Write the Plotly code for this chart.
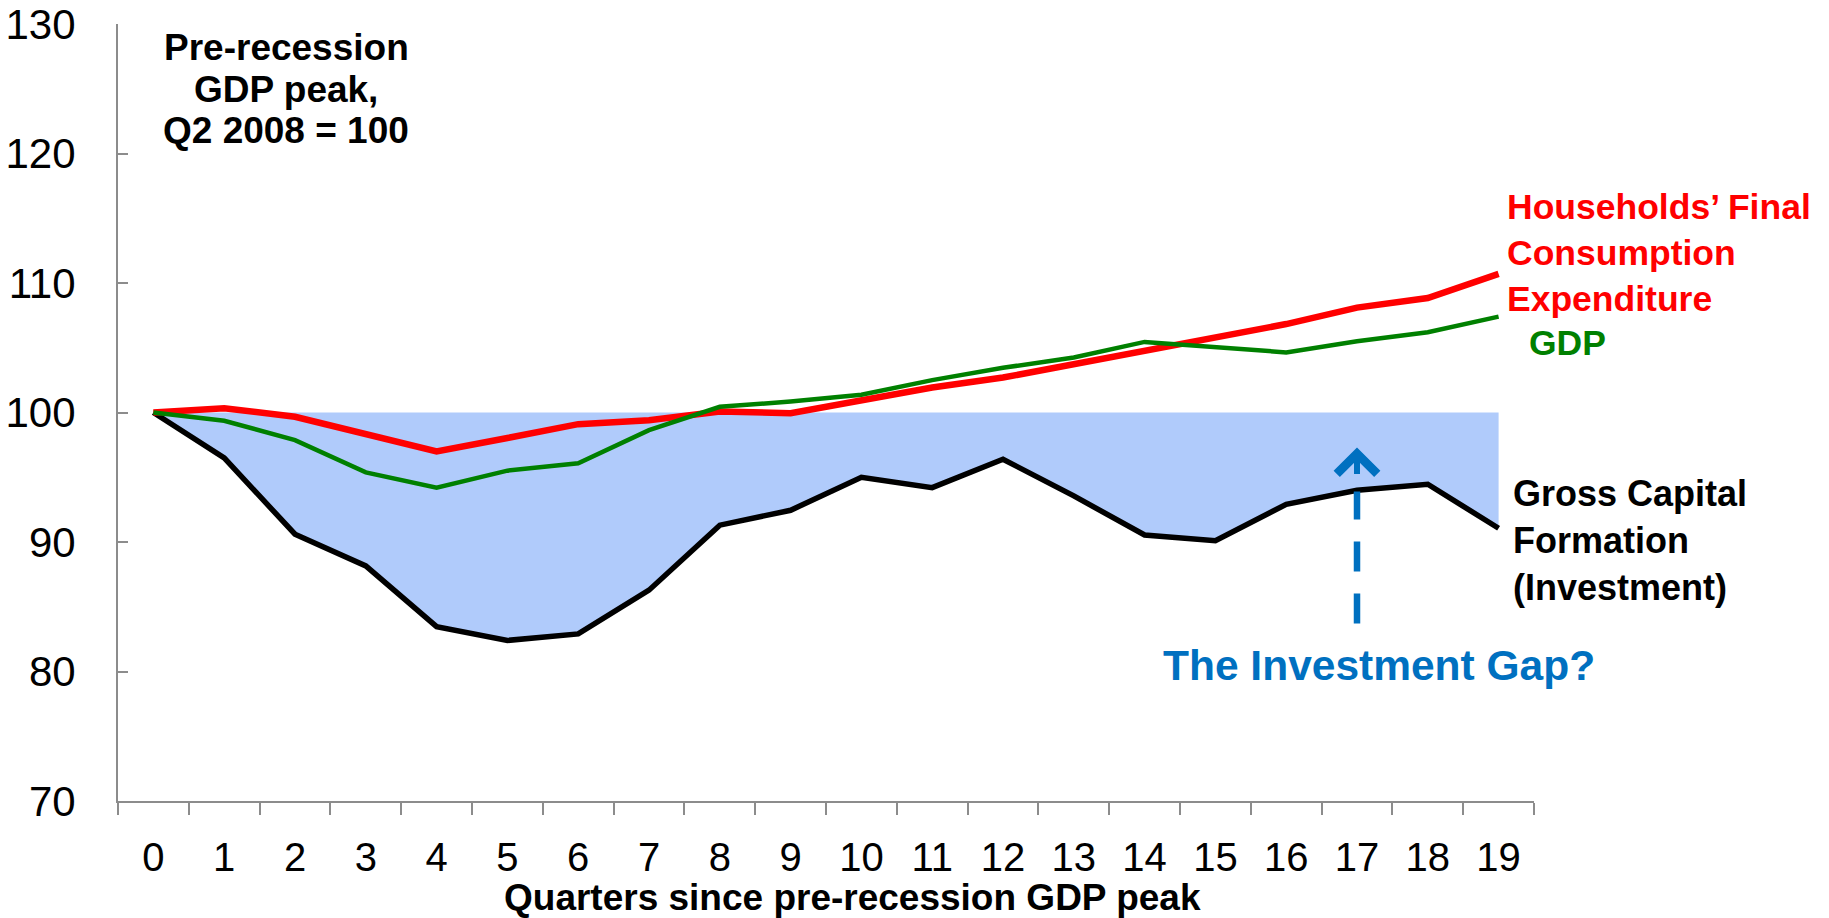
import plotly.graph_objects as go

# ---- data ----
quarters = list(range(20))
quarter_labels = [str(q) for q in quarters]

households_consumption = [100.0, 100.33, 99.67, 98.33, 97.0, 98.03, 99.1, 99.41, 100.08, 99.95,
                          100.95, 101.93, 102.7, 103.74, 104.77, 105.75, 106.83, 108.1, 108.84, 110.7]
gdp = [100.0, 99.36, 97.87, 95.38, 94.2, 95.51, 96.08, 98.64, 100.44, 100.85,
       101.37, 102.5, 103.45, 104.25, 105.45, 105.03, 104.64, 105.5, 106.2, 107.4]
gross_capital_formation = [100.0, 96.49, 90.6, 88.15, 83.46, 82.4, 82.9, 86.28, 91.3, 92.45,
                           95.0, 94.2, 96.39, 93.56, 90.54, 90.1, 92.91, 93.99, 94.46, 91.06]
pre_recession_level = [100.0, 100.0, 100.0, 100.0, 100.0, 100.0, 100.0, 100.0, 100.0, 100.0,
                       100.0, 100.0, 100.0, 100.0, 100.0, 100.0, 100.0, 100.0, 100.0, 100.0]

y_ticks = [70, 80, 90, 100, 110, 120, 130]

# ---- layout geometry ----
FIG_W, FIG_H = 1829, 918
M_L, M_R, M_T, M_B = 118, 295, 24, 117
PW = FIG_W - M_L - M_R
PH = FIG_H - M_T - M_B


def px(x_pix):
    return (x_pix - M_L) / PW


def py(y_pix):
    return (FIG_H - M_B - y_pix) / PH


FONT = "Liberation Sans, Arial, sans-serif"
AXIS_GREY = "#8c8c8c"

fig = go.Figure()

# invisible upper edge of the gap area
fig.add_trace(go.Scatter(
    x=quarter_labels, y=pre_recession_level, mode="lines",
    line=dict(width=0, color="rgba(0,0,0,0)"), showlegend=False, hoverinfo="skip"))

# investment line with shaded gap up to 100
fig.add_trace(go.Scatter(
    x=quarter_labels, y=gross_capital_formation, mode="lines",
    name="Gross Capital Formation (Investment)",
    line=dict(color="#000000", width=5.5),
    fill="tonexty", fillcolor="#b0cbfb", showlegend=False))

fig.add_trace(go.Scatter(
    x=quarter_labels, y=households_consumption, mode="lines",
    name="Households’ Final Consumption Expenditure",
    line=dict(color="#ff0000", width=6.5), showlegend=False))

fig.add_trace(go.Scatter(
    x=quarter_labels, y=gdp, mode="lines", name="GDP",
    line=dict(color="#008000", width=4.5), showlegend=False))

# dashed arrow shaft
fig.add_shape(type="line", xref="x", yref="y",
              x0=17, y0=83.7, x1=17, y1=93.9,
              line=dict(color="#0070c0", width=6.5, dash="30px,22px"))

annotations = [
    # arrow head (open chevron)
    dict(x=17, y=97.3, xref="x", yref="y", ax=0, ay=28, axref="pixel", ayref="pixel",
         text="", showarrow=True, arrowhead=4, arrowsize=1.3, arrowwidth=6,
         arrowcolor="#0070c0", standoff=0),
    dict(x=px(286), y=py(47), xref="paper", yref="paper", text="Pre-recession",
         showarrow=False, xanchor="center", yanchor="middle",
         font=dict(family=FONT, size=37, color="#000000", weight="bold")),
    dict(x=px(286), y=py(89), xref="paper", yref="paper", text="GDP peak,",
         showarrow=False, xanchor="center", yanchor="middle",
         font=dict(family=FONT, size=37, color="#000000", weight="bold")),
    dict(x=px(286), y=py(130), xref="paper", yref="paper", text="Q2 2008 = 100",
         showarrow=False, xanchor="center", yanchor="middle",
         font=dict(family=FONT, size=37, color="#000000", weight="bold")),
    dict(x=px(1505), y=py(253), xref="paper", yref="paper",
         text="Households’ Final<br>Consumption<br>Expenditure",
         showarrow=False, xanchor="left", yanchor="middle", align="left",
         font=dict(family=FONT, size=35.5, color="#ff0000", weight="bold")),
    dict(x=px(1527), y=py(343), xref="paper", yref="paper", text="GDP",
         showarrow=False, xanchor="left", yanchor="middle", align="left",
         font=dict(family=FONT, size=35.5, color="#008000", weight="bold")),
    dict(x=px(1511), y=py(540), xref="paper", yref="paper",
         text="Gross Capital<br>Formation<br>(Investment)",
         showarrow=False, xanchor="left", yanchor="middle", align="left",
         font=dict(family=FONT, size=36, color="#000000", weight="bold")),
    dict(x=px(1379), y=py(665), xref="paper", yref="paper", text="The Investment Gap?",
         showarrow=False, xanchor="center", yanchor="middle",
         font=dict(family=FONT, size=42.5, color="#0070c0", weight="bold")),
    # x-axis title
    dict(x=px(853), y=py(898), xref="paper", yref="paper",
         text="Quarters since pre-recession GDP peak",
         showarrow=False, xanchor="center", yanchor="middle",
         font=dict(family=FONT, size=37, color="#000000", weight="bold")),
]

fig.update_layout(
    width=FIG_W, height=FIG_H,
    margin=dict(l=M_L, r=M_R, t=M_T, b=M_B, autoexpand=False),
    paper_bgcolor="#ffffff", plot_bgcolor="#ffffff",
    showlegend=False,
    font=dict(family=FONT, color="#000000"),
    annotations=annotations,
)

fig.update_xaxes(
    type="category", categoryorder="array", categoryarray=quarter_labels,
    range=[-0.5, 19.5], tickson="boundaries",
    ticks="outside", ticklen=12, tickwidth=2, tickcolor=AXIS_GREY,
    showline=True, linecolor=AXIS_GREY, linewidth=2,
    showgrid=False, zeroline=False,
    tickfont=dict(family=FONT, size=40, color="#000000"),
    ticklabelstandoff=20,
    automargin=False,
)

fig.update_yaxes(
    range=[70, 130], tickvals=y_ticks,
    ticks="inside", ticklen=10, tickwidth=2, tickcolor=AXIS_GREY,
    showline=True, linecolor=AXIS_GREY, linewidth=2,
    showgrid=False, zeroline=False,
    tickfont=dict(family=FONT, size=42, color="#000000"),
    ticklabelstandoff=32,
    automargin=False,
)

fig.write_html(
    "out.html",
    config={"displayModeBar": False},
    post_script="document.body.style.margin='0';document.body.style.overflow='hidden';",
)
